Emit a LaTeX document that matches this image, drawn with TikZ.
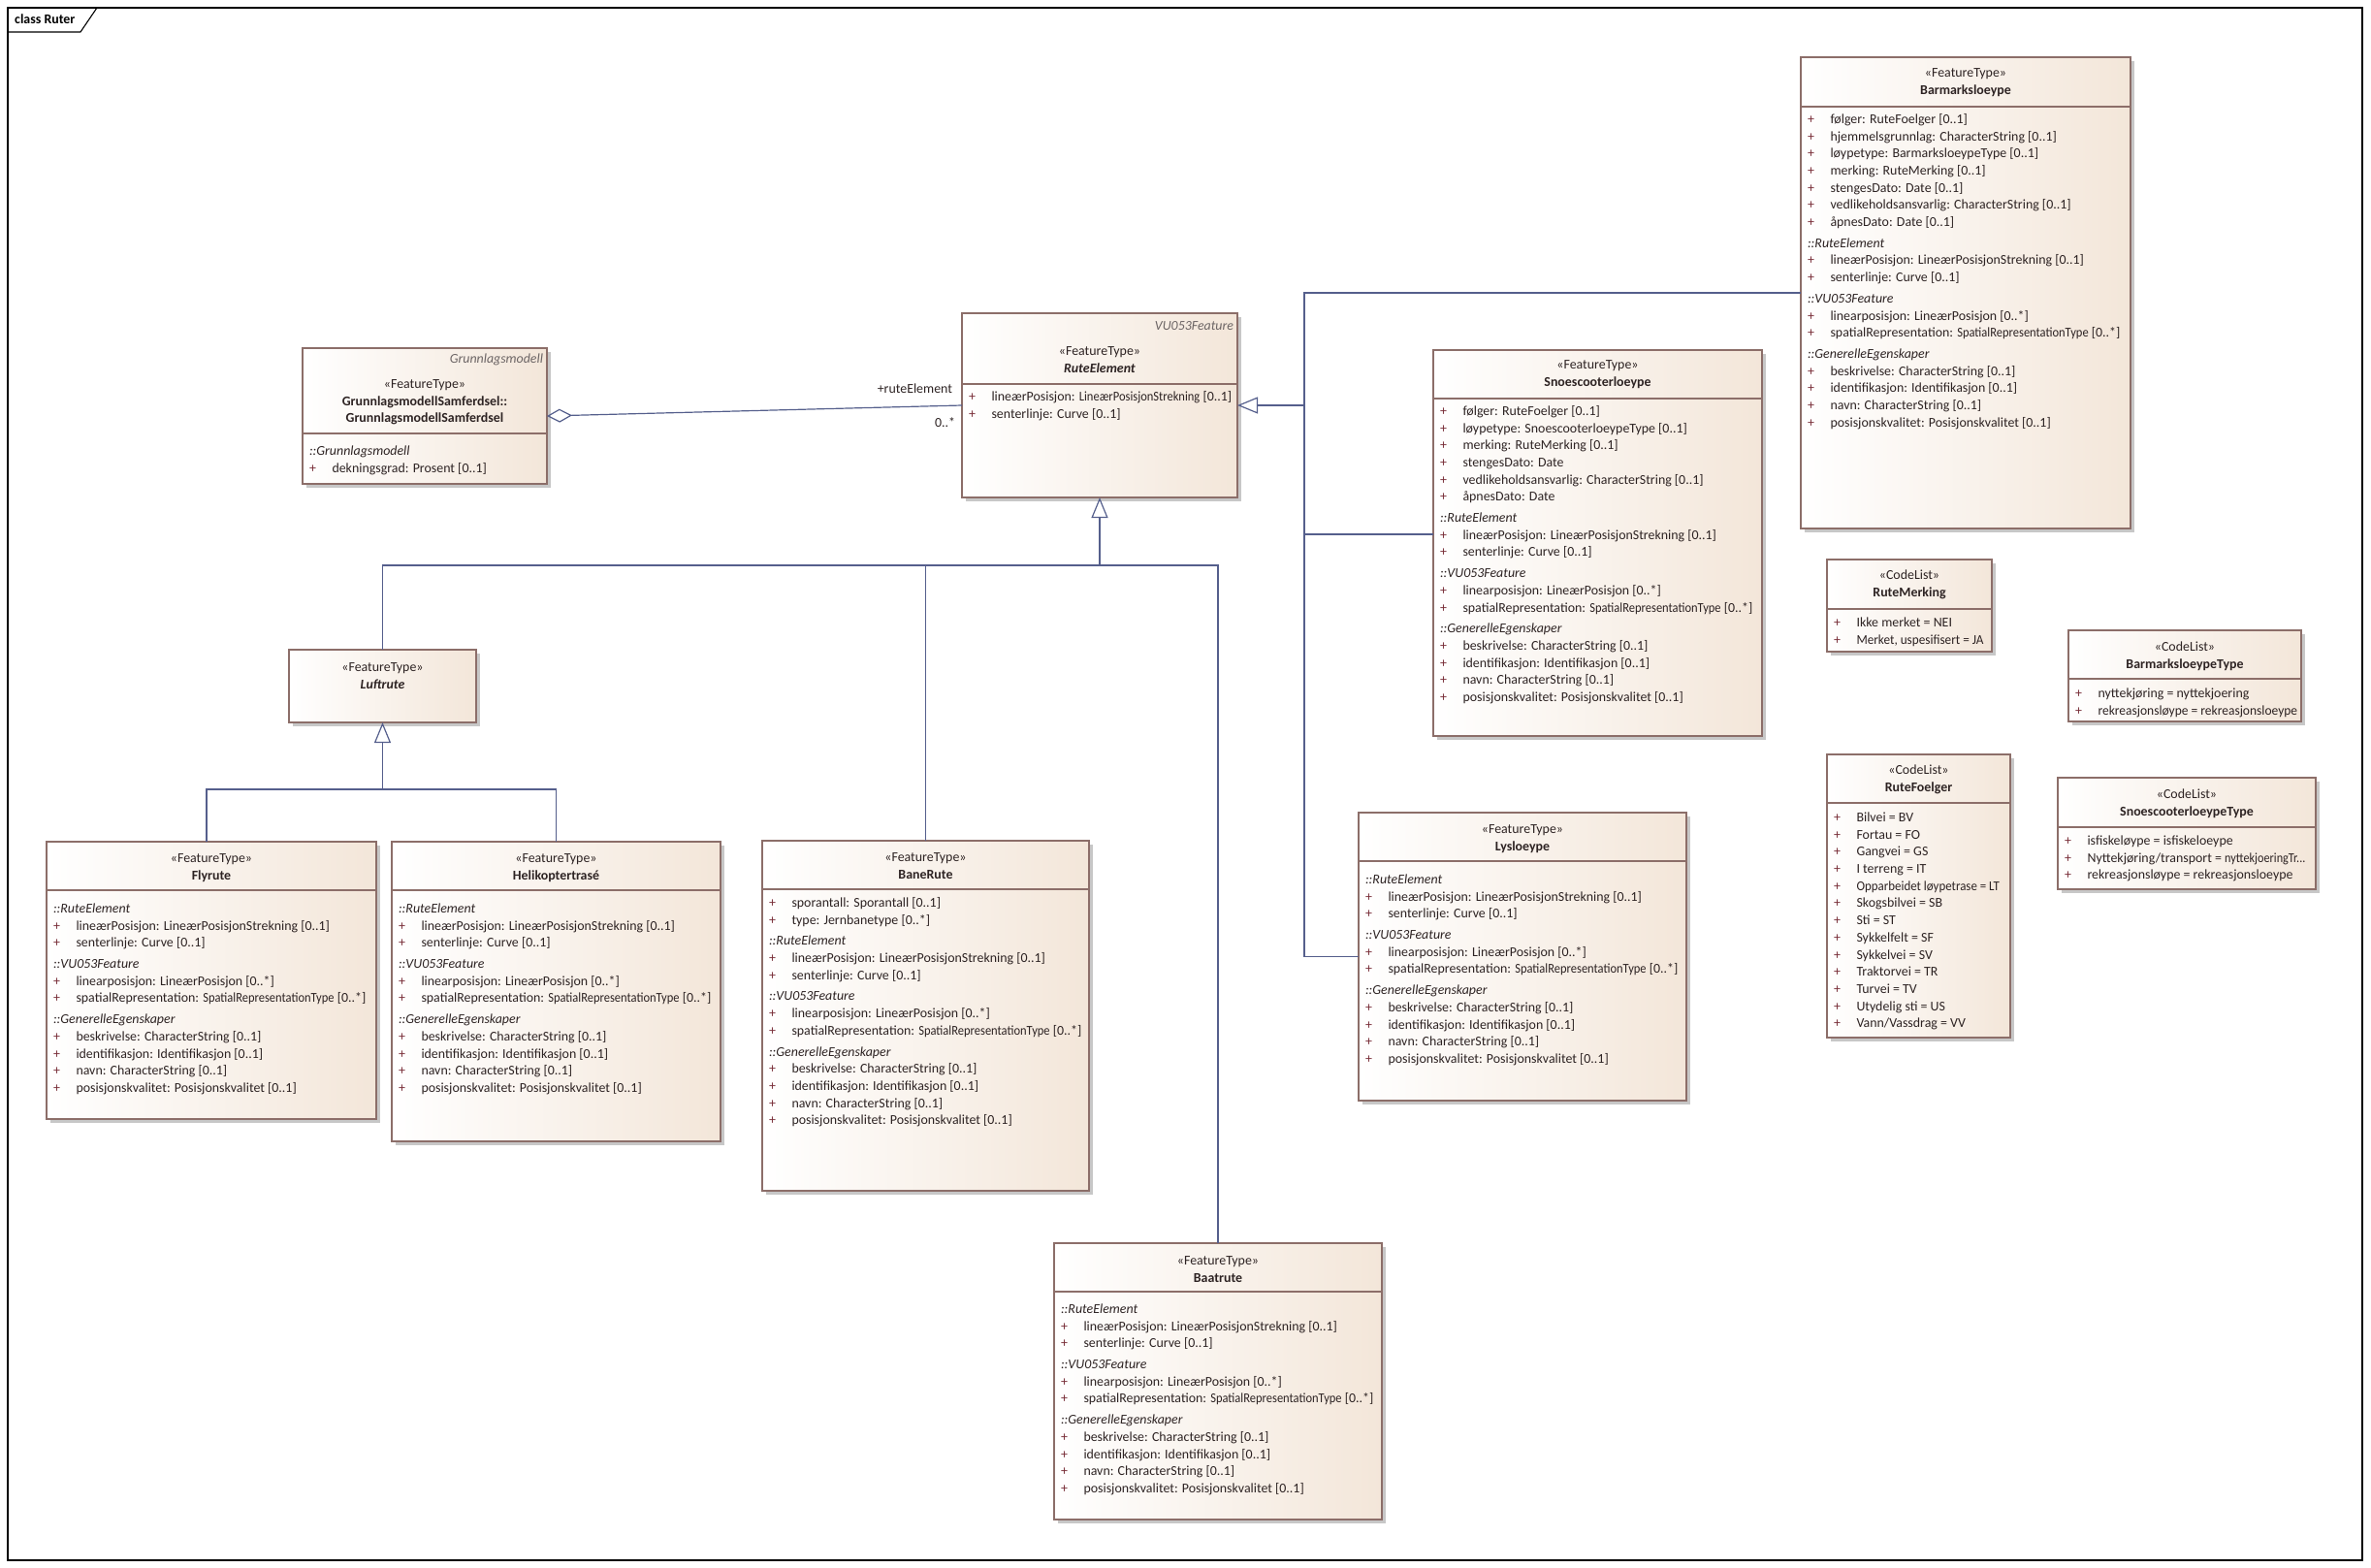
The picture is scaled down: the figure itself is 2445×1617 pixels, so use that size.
\documentclass[tikz,border=0pt]{standalone}
\usepackage{fontspec}
\setmainfont{Carlito}
\usepackage{graphicx}
\usetikzlibrary{arrows.meta, positioning, shadows}

\definecolor{umlfill}{RGB}{243,230,217}
\definecolor{umlline}{RGB}{140,110,105}
\definecolor{umltext}{RGB}{45,35,35}
\definecolor{umlplus}{RGB}{120,45,55}
\definecolor{umlconn}{RGB}{85,95,140}

\newcommand{\uattr}[1]{\strut\makebox[23.5pt][l]{\textcolor{umlplus}{+}}#1}
\newcommand{\ugrp}[1]{\strut\textit{#1}}
\newcommand{\sqz}[1]{\scalebox{0.9}[1]{#1}}

\begin{document}
\begin{tikzpicture}[
    x=1pt, y=-1pt,
    font=\fontsize{13.9}{17.7}\selectfont,
    umlclass/.style={rectangle, draw=umlline, line width=1.1pt, left color=white, right color=umlfill, anchor=north west, inner sep=0pt, outer sep=0pt, drop shadow={shadow xshift=4pt, shadow yshift=-4pt, fill=black!22, opacity=1}},
    umlsep/.style={draw=umlline, line width=1.1pt},
    umlhead/.style={align=center, inner sep=0pt, outer sep=0pt, text=umltext},
    umlattr/.style={align=left, inner sep=0pt, outer sep=0pt, anchor=north west, text=umltext},
    umlpkg/.style={inner sep=0pt, outer sep=0pt, anchor=north east, text=umltext!70},
    conn/.style={draw=umlconn, line width=1.2pt},
    gen/.style={conn, -{Triangle[open, length=21pt, width=17pt]}},
    agg/.style={conn, {Diamond[open, length=26pt, width=14pt]}-},
    lbl/.style={inner sep=0pt, outer sep=0pt, text=umltext}
]
\useasboundingbox (0,0) rectangle (2445,1617);

% diagram frame
\node (ramme) [draw, line width=1.1pt, minimum width=2428, minimum height=1601, anchor=north west, inner sep=0pt, outer sep=0pt] at (8,8) {};
\node (rammenavn) [anchor=west, inner sep=0pt, font=\fontsize{13.9}{17.7}\selectfont\bfseries] at ([xshift=7, yshift=-12]ramme.north west) {class Ruter};
\draw [line width=1.1pt] ([yshift=-25]ramme.north west) -- ++(75,0) -- ([xshift=92]ramme.north west);

% Barmarksloeype
\node (barmarksloeype) [umlclass, minimum width=340, minimum height=486] at (1857,59) {};
\draw [umlsep] ([yshift=-51]barmarksloeype.north west) -- ([yshift=-51]barmarksloeype.north east);
\node [umlhead, below=8pt of barmarksloeype.north] {\strut«FeatureType»\\\strut\textbf{Barmarksloeype}};
\node [umlattr] at ([xshift=7, yshift=-56]barmarksloeype.north west) {%
\uattr{følger: RuteFoelger [0..1]}\\
\uattr{hjemmelsgrunnlag: CharacterString [0..1]}\\
\uattr{løypetype: BarmarksloeypeType [0..1]}\\
\uattr{merking: RuteMerking [0..1]}\\
\uattr{stengesDato: Date [0..1]}\\
\uattr{vedlikeholdsansvarlig: CharacterString [0..1]}\\
\uattr{åpnesDato: Date [0..1]}\\[4pt]
\ugrp{::RuteElement}\\
\uattr{lineærPosisjon: LineærPosisjonStrekning [0..1]}\\
\uattr{senterlinje: Curve [0..1]}\\[4pt]
\ugrp{::VU053Feature}\\
\uattr{linearposisjon: LineærPosisjon [0..*]}\\
\uattr{spatialRepresentation: \sqz{SpatialRepresentationType} [0..*]}\\[4pt]
\ugrp{::GenerelleEgenskaper}\\
\uattr{beskrivelse: CharacterString [0..1]}\\
\uattr{identifikasjon: Identifikasjon [0..1]}\\
\uattr{navn: CharacterString [0..1]}\\
\uattr{posisjonskvalitet: Posisjonskvalitet [0..1]}};

% GrunnlagsmodellSamferdsel
\node (grunnlag) [umlclass, minimum width=252, minimum height=140] at (312,359) {};
\draw [umlsep] ([yshift=-88]grunnlag.north west) -- ([yshift=-88]grunnlag.north east);
\node [umlpkg] at ([xshift=-4, yshift=-3]grunnlag.north east) {\strut\textit{Grunnlagsmodell}};
\node [umlhead, below=29pt of grunnlag.north] {\strut«FeatureType»\\\strut\textbf{GrunnlagsmodellSamferdsel::}\\\strut\textbf{GrunnlagsmodellSamferdsel}};
\node [umlattr] at ([xshift=7, yshift=-98]grunnlag.north west) {%
\ugrp{::Grunnlagsmodell}\\
\uattr{dekningsgrad: Prosent [0..1]}};

% RuteElement
\node (ruteelement) [umlclass, minimum width=284, minimum height=190] at (992,323) {};
\draw [umlsep] ([yshift=-73]ruteelement.north west) -- ([yshift=-73]ruteelement.north east);
\node [umlpkg] at ([xshift=-4, yshift=-5]ruteelement.north east) {\strut\textit{VU053Feature}};
\node [umlhead, below=31pt of ruteelement.north] {\strut«FeatureType»\\\strut\textbf{\textit{RuteElement}}};
\node [umlattr] at ([xshift=7, yshift=-78]ruteelement.north west) {%
\uattr{lineærPosisjon: \scalebox{0.9}[1]{LineærPosisjonStrekning} [0..1]}\\
\uattr{senterlinje: Curve [0..1]}};

% Snoescooterloeype
\node (snoescooter) [umlclass, minimum width=339, minimum height=398] at (1478,361) {};
\draw [umlsep] ([yshift=-50]snoescooter.north west) -- ([yshift=-50]snoescooter.north east);
\node [umlhead, below=7pt of snoescooter.north] {\strut«FeatureType»\\\strut\textbf{Snoescooterloeype}};
\node [umlattr] at ([xshift=7, yshift=-55]snoescooter.north west) {%
\uattr{følger: RuteFoelger [0..1]}\\
\uattr{løypetype: SnoescooterloeypeType [0..1]}\\
\uattr{merking: RuteMerking [0..1]}\\
\uattr{stengesDato: Date}\\
\uattr{vedlikeholdsansvarlig: CharacterString [0..1]}\\
\uattr{åpnesDato: Date}\\[4pt]
\ugrp{::RuteElement}\\
\uattr{lineærPosisjon: LineærPosisjonStrekning [0..1]}\\
\uattr{senterlinje: Curve [0..1]}\\[4pt]
\ugrp{::VU053Feature}\\
\uattr{linearposisjon: LineærPosisjon [0..*]}\\
\uattr{spatialRepresentation: \sqz{SpatialRepresentationType} [0..*]}\\[4pt]
\ugrp{::GenerelleEgenskaper}\\
\uattr{beskrivelse: CharacterString [0..1]}\\
\uattr{identifikasjon: Identifikasjon [0..1]}\\
\uattr{navn: CharacterString [0..1]}\\
\uattr{posisjonskvalitet: Posisjonskvalitet [0..1]}};

% Luftrute
\node (luftrute) [umlclass, minimum width=193, minimum height=75] at (298,670) {};
\node [umlhead, below=10pt of luftrute.north] {\strut«FeatureType»\\\strut\textbf{\textit{Luftrute}}};

% Flyrute
\node (flyrute) [umlclass, minimum width=340, minimum height=286] at (48,868) {};
\draw [umlsep] ([yshift=-50]flyrute.north west) -- ([yshift=-50]flyrute.north east);
\node [umlhead, below=9pt of flyrute.north] {\strut«FeatureType»\\\strut\textbf{Flyrute}};
\node [umlattr] at ([xshift=7, yshift=-61]flyrute.north west) {%
\ugrp{::RuteElement}\\
\uattr{lineærPosisjon: LineærPosisjonStrekning [0..1]}\\
\uattr{senterlinje: Curve [0..1]}\\[4pt]
\ugrp{::VU053Feature}\\
\uattr{linearposisjon: LineærPosisjon [0..*]}\\
\uattr{spatialRepresentation: \sqz{SpatialRepresentationType} [0..*]}\\[4pt]
\ugrp{::GenerelleEgenskaper}\\
\uattr{beskrivelse: CharacterString [0..1]}\\
\uattr{identifikasjon: Identifikasjon [0..1]}\\
\uattr{navn: CharacterString [0..1]}\\
\uattr{posisjonskvalitet: Posisjonskvalitet [0..1]}};

% Helikoptertrase
\node (heli) [umlclass, minimum width=339, minimum height=309] at (404,868) {};
\draw [umlsep] ([yshift=-50]heli.north west) -- ([yshift=-50]heli.north east);
\node [umlhead, below=9pt of heli.north] {\strut«FeatureType»\\\strut\textbf{Helikoptertrasé}};
\node [umlattr] at ([xshift=7, yshift=-61]heli.north west) {%
\ugrp{::RuteElement}\\
\uattr{lineærPosisjon: LineærPosisjonStrekning [0..1]}\\
\uattr{senterlinje: Curve [0..1]}\\[4pt]
\ugrp{::VU053Feature}\\
\uattr{linearposisjon: LineærPosisjon [0..*]}\\
\uattr{spatialRepresentation: \sqz{SpatialRepresentationType} [0..*]}\\[4pt]
\ugrp{::GenerelleEgenskaper}\\
\uattr{beskrivelse: CharacterString [0..1]}\\
\uattr{identifikasjon: Identifikasjon [0..1]}\\
\uattr{navn: CharacterString [0..1]}\\
\uattr{posisjonskvalitet: Posisjonskvalitet [0..1]}};

% BaneRute
\node (banerute) [umlclass, minimum width=337, minimum height=361] at (786,867) {};
\draw [umlsep] ([yshift=-50]banerute.north west) -- ([yshift=-50]banerute.north east);
\node [umlhead, below=9pt of banerute.north] {\strut«FeatureType»\\\strut\textbf{BaneRute}};
\node [umlattr] at ([xshift=7, yshift=-56]banerute.north west) {%
\uattr{sporantall: Sporantall [0..1]}\\
\uattr{type: Jernbanetype [0..*]}\\[4pt]
\ugrp{::RuteElement}\\
\uattr{lineærPosisjon: LineærPosisjonStrekning [0..1]}\\
\uattr{senterlinje: Curve [0..1]}\\[4pt]
\ugrp{::VU053Feature}\\
\uattr{linearposisjon: LineærPosisjon [0..*]}\\
\uattr{spatialRepresentation: \sqz{SpatialRepresentationType} [0..*]}\\[4pt]
\ugrp{::GenerelleEgenskaper}\\
\uattr{beskrivelse: CharacterString [0..1]}\\
\uattr{identifikasjon: Identifikasjon [0..1]}\\
\uattr{navn: CharacterString [0..1]}\\
\uattr{posisjonskvalitet: Posisjonskvalitet [0..1]}};

% Lysloeype
\node (lysloeype) [umlclass, minimum width=338, minimum height=297] at (1401,838) {};
\draw [umlsep] ([yshift=-50]lysloeype.north west) -- ([yshift=-50]lysloeype.north east);
\node [umlhead, below=9pt of lysloeype.north] {\strut«FeatureType»\\\strut\textbf{Lysloeype}};
\node [umlattr] at ([xshift=7, yshift=-61]lysloeype.north west) {%
\ugrp{::RuteElement}\\
\uattr{lineærPosisjon: LineærPosisjonStrekning [0..1]}\\
\uattr{senterlinje: Curve [0..1]}\\[4pt]
\ugrp{::VU053Feature}\\
\uattr{linearposisjon: LineærPosisjon [0..*]}\\
\uattr{spatialRepresentation: \sqz{SpatialRepresentationType} [0..*]}\\[4pt]
\ugrp{::GenerelleEgenskaper}\\
\uattr{beskrivelse: CharacterString [0..1]}\\
\uattr{identifikasjon: Identifikasjon [0..1]}\\
\uattr{navn: CharacterString [0..1]}\\
\uattr{posisjonskvalitet: Posisjonskvalitet [0..1]}};

% Baatrute
\node (baatrute) [umlclass, minimum width=338, minimum height=285] at (1087,1282) {};
\draw [umlsep] ([yshift=-50]baatrute.north west) -- ([yshift=-50]baatrute.north east);
\node [umlhead, below=10pt of baatrute.north] {\strut«FeatureType»\\\strut\textbf{Baatrute}};
\node [umlattr] at ([xshift=7, yshift=-60]baatrute.north west) {%
\ugrp{::RuteElement}\\
\uattr{lineærPosisjon: LineærPosisjonStrekning [0..1]}\\
\uattr{senterlinje: Curve [0..1]}\\[4pt]
\ugrp{::VU053Feature}\\
\uattr{linearposisjon: LineærPosisjon [0..*]}\\
\uattr{spatialRepresentation: \sqz{SpatialRepresentationType} [0..*]}\\[4pt]
\ugrp{::GenerelleEgenskaper}\\
\uattr{beskrivelse: CharacterString [0..1]}\\
\uattr{identifikasjon: Identifikasjon [0..1]}\\
\uattr{navn: CharacterString [0..1]}\\
\uattr{posisjonskvalitet: Posisjonskvalitet [0..1]}};

% code lists
\node (rutemerking) [umlclass, minimum width=170, minimum height=95] at (1884,577) {};
\draw [umlsep] ([yshift=-51]rutemerking.north west) -- ([yshift=-51]rutemerking.north east);
\node [umlhead, below=8pt of rutemerking.north] {\strut«CodeList»\\\strut\textbf{RuteMerking}};
\node [umlattr] at ([xshift=7, yshift=-57]rutemerking.north west) {%
\uattr{Ikke merket = NEI}\\
\uattr{\scalebox{0.95}[1]{Merket, uspesifisert = JA}}};

\node (barmarktype) [umlclass, minimum width=240, minimum height=94] at (2133,650) {};
\draw [umlsep] ([yshift=-50]barmarktype.north west) -- ([yshift=-50]barmarktype.north east);
\node [umlhead, below=9pt of barmarktype.north] {\strut«CodeList»\\\strut\textbf{BarmarksloeypeType}};
\node [umlattr] at ([xshift=7, yshift=-57]barmarktype.north west) {%
\uattr{nyttekjøring = nyttekjoering}\\
\uattr{\scalebox{0.97}[1]{rekreasjonsløype = rekreasjonsloeype}}};

\node (rutefoelger) [umlclass, minimum width=189, minimum height=292] at (1884,778) {};
\draw [umlsep] ([yshift=-50]rutefoelger.north west) -- ([yshift=-50]rutefoelger.north east);
\node [umlhead, below=8pt of rutefoelger.north] {\strut«CodeList»\\\strut\textbf{RuteFoelger}};
\node [umlattr] at ([xshift=7, yshift=-57]rutefoelger.north west) {%
\uattr{Bilvei = BV}\\
\uattr{Fortau = FO}\\
\uattr{Gangvei = GS}\\
\uattr{I terreng = IT}\\
\uattr{\scalebox{0.93}[1]{Opparbeidet løypetrase = LT}}\\
\uattr{Skogsbilvei = SB}\\
\uattr{Sti = ST}\\
\uattr{Sykkelfelt = SF}\\
\uattr{Sykkelvei = SV}\\
\uattr{Traktorvei = TR}\\
\uattr{Turvei = TV}\\
\uattr{Utydelig sti = US}\\
\uattr{Vann/Vassdrag = VV}};

\node (snotype) [umlclass, minimum width=266, minimum height=115] at (2122,802) {};
\draw [umlsep] ([yshift=-51]snotype.north west) -- ([yshift=-51]snotype.north east);
\node [umlhead, below=9pt of snotype.north] {\strut«CodeList»\\\strut\textbf{SnoescooterloeypeType}};
\node [umlattr] at ([xshift=7, yshift=-57]snotype.north west) {%
\uattr{isfiskeløype = isfiskeloeype}\\
\uattr{Nyttekjøring/transport = \scalebox{0.88}[1]{nyttekjoeringTr...}}\\
\uattr{rekreasjonsløype = rekreasjonsloeype}};

% aggregation
\draw [agg] (grunnlag.east) -- (ruteelement.west)
    node [lbl, pos=1, anchor=south east, xshift=-10pt, yshift=12pt] {+ruteElement}
    node [lbl, pos=1, anchor=north east, xshift=-7pt, yshift=-13pt] {0..*};

% generalisation below RuteElement
\coordinate (genbus) at ([yshift=-70]ruteelement.south);
\draw [gen] (genbus) -- (ruteelement.south);
\draw [conn] (luftrute.north) |- (genbus);
\draw [conn] (banerute.north) |- (genbus);
\draw [conn] (baatrute.north) |- (genbus);

% generalisation below Luftrute
\coordinate (luftbus) at ([yshift=-69]luftrute.south);
\draw [gen] (luftbus) -- (luftrute.south);
\draw [conn] ([xshift=-5]flyrute.north) |- (luftbus);
\draw [conn] (heli.north) |- (luftbus);

% generalisation right of RuteElement
\coordinate (snobus) at ([xshift=69]ruteelement.east);
\draw [gen] (snobus) -- (ruteelement.east);
\draw [conn] (barmarksloeype.west) -| (snobus);
\draw [conn] ([yshift=9]snoescooter.west) -| (snobus);
\draw [conn] (lysloeype.west) -| (snobus);
\end{tikzpicture}
\end{document}
